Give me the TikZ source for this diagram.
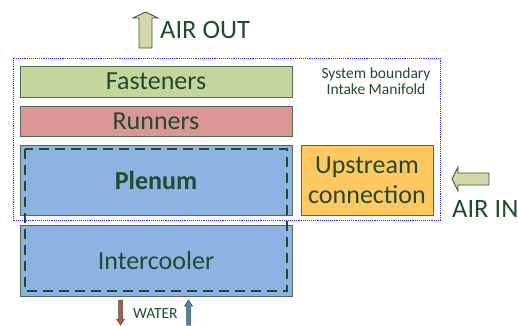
\documentclass[tikz,border=0pt]{standalone}
\usepackage{fontspec}
\setmainfont{Carlito}
\usetikzlibrary{calc}
\definecolor{txtgreen}{HTML}{234A2E}
\definecolor{edgegreen}{HTML}{4F6B58}
\definecolor{fastfill}{HTML}{C3D69B}
\definecolor{runfill}{HTML}{D99694}
\definecolor{blufill}{HTML}{8DB3E2}
\definecolor{upfill}{HTML}{FFC95F}
\definecolor{arrowfill}{HTML}{D6D7A8}
\definecolor{arrowedge}{HTML}{2F5A3A}
\definecolor{bounddot}{HTML}{3333FF}
\definecolor{hotred}{HTML}{C0504D}
\definecolor{coldblue}{HTML}{4F81BD}
\tikzset{
  x=1pt, y=-1pt,
  block/.style={draw=edgegreen, line width=0.9pt},
  bigarrow/.style={draw=arrowedge, fill=arrowfill, line width=0.9pt, line join=miter},
  label/.style={text=txtgreen, inner sep=0pt},
  bigfont/.style={font=\fontsize{26}{30}\selectfont},
}
\begin{document}
\begin{tikzpicture}
\useasboundingbox (0,0) rectangle (518,325);

% system boundary
\draw[bounddot, densely dotted, line width=0.9pt] (13,58) rectangle (440,220);
\node[label, font=\fontsize{15.5}{16.5}\selectfont, align=center] (sysb) at (376,81) {System boundary\\Intake Manifold};

% stacked blocks
\path[block, fill=fastfill] (20,66) rectangle (292,97);
\node[label, bigfont] (fast) at (156,81.5) {Fasteners};
\path[block, fill=runfill] (20,106) rectangle (292,136);
\node[label, bigfont] (run) at (156,121) {Runners};
\path[block, fill=blufill] (20,145) rectangle (292,215);
\node[label, font=\fontsize{26}{30}\selectfont\bfseries] (plen) at (156,180) {Plenum};
\path[block, fill=blufill] (20,225) rectangle (292,296);
\node[label, bigfont] (ic) at (156,261) {Intercooler};
\path[block, fill=upfill] (301,145) rectangle (433,215);
\node[label, bigfont, align=center] (up) at (367,180) {Upstream\\connection};

% dashed outline across plenum and intercooler
\draw[txtgreen, dash pattern=on 10pt off 6pt, line width=1.3pt] (25,149) rectangle (287,291);

% air out arrow
\draw[bigarrow] (139,48) -- (139,18) -- (133,18) -- (145.5,12) -- (158,18) -- (152,18) -- (152,48) -- cycle;
\node[label, font=\fontsize{26.5}{30}\selectfont, anchor=west] (airout) at (160,30) {AIR OUT};

% air in arrow
\draw[bigarrow] (489,173) -- (458,173) -- (458,167) -- (452,179) -- (458,191) -- (458,185) -- (489,185) -- cycle;
\node[label, font=\fontsize{26.5}{30}\selectfont, anchor=west] (airin) at (452,209) {AIR IN};

% water in/out
\fill[hotred, draw=arrowedge, line width=0.5pt] (118.5,300) -- (122.5,300) -- (122.5,319) -- (124.5,319) -- (120.5,325) -- (116.5,319) -- (118.5,319) -- cycle;
\fill[coldblue, draw=arrowedge, line width=0.5pt] (186.5,325) -- (190.5,325) -- (190.5,306) -- (192.5,306) -- (188.5,300) -- (184.5,306) -- (186.5,306) -- cycle;
\node[label, font=\fontsize{15.5}{16}\selectfont, anchor=west] (water) at (133,313.5) {WATER};
\end{tikzpicture}
\end{document}
